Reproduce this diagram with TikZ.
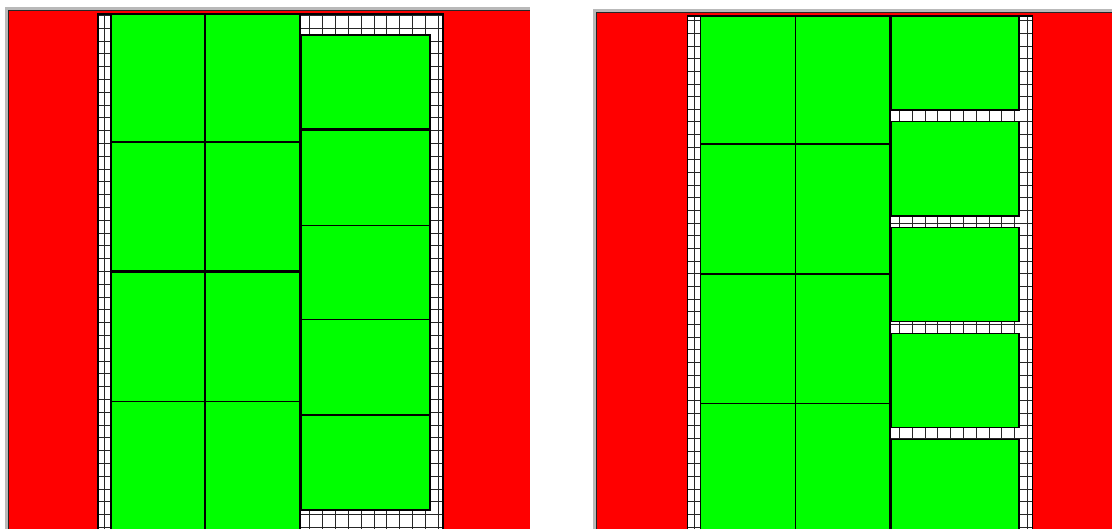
\documentclass[tikz,border=0pt]{standalone}
\usepackage{xcolor}
\usepackage{tikz}

\definecolor{boxgreen}{RGB}{0,255,0}
\definecolor{panelred}{RGB}{255,0,0}
\tikzset{
  greenbox/.style={fill=boxgreen, draw=black, line width=1.2pt},
  cellline/.style={draw=black!85, line width=1pt},
  shadowband/.style={fill=gray!55},
  darkedge/.style={fill=black!85}
}

\begin{document}
\begin{tikzpicture}[x=1pt,y=-1pt]
\useasboundingbox (0,0) rectangle (1112,528);
\clip (0,0) rectangle (1112,528);
% left panel
\fill[shadowband] (5,7) rectangle (530,540);
\fill[darkedge] (7.8,9.8) rectangle (530,540);
\fill[panelred] (9.2,11.2) rectangle (530,540);
\fill[white] (98,14) rectangle (443,540);
\begin{scope}
\clip (98,14) rectangle (443,540);
\foreach \k in {0,...,26}
  \draw[cellline] ({104.7+12.83*\k},14) -- ({104.7+12.83*\k},540);
\foreach \k in {0,...,41}
  \draw[cellline] (98,{15.5+12.8*\k}) -- (443,{15.5+12.8*\k});
\end{scope}
\draw[line width=1.2pt] (98,540) -- (98,14) -- (443,14) -- (443,540);
\foreach \ya/\yb in {14/141.8, 142.8/271, 272/401.5, 401.5/540}{
  \filldraw[greenbox] (111,\ya) rectangle (205,\yb);
  \filldraw[greenbox] (205,\ya) rectangle (300,\yb);
}
\foreach \ya/\yb in {35/129, 130/225.3, 225.3/319.7, 319.7/414.5, 415.5/510}
  \filldraw[greenbox] (301,\ya) rectangle (430,\yb);
%
% right panel
\fill[shadowband] (593,9) rectangle (1112,540);
\fill[darkedge] (595.8,11.8) rectangle (1112,540);
\fill[panelred] (597.2,13.2) rectangle (1112,540);
\fill[white] (687.5,16) rectangle (1032.3,540);
\begin{scope}
\clip (687.5,16) rectangle (1032.3,540);
\foreach \k in {0,...,26}
  \draw[cellline] ({694.3+12.82*\k},16) -- ({694.3+12.82*\k},540);
\foreach \k in {0,...,41}
  \draw[cellline] (687.5,{20.7+12.66*\k}) -- (1032.3,{20.7+12.66*\k});
\end{scope}
\draw[line width=1.2pt] (687.5,540) -- (687.5,16) -- (1032.3,16) -- (1032.3,540);
\foreach \ya/\yb in {16/143.8, 144.8/273.8, 274.8/403.3, 403.3/540}{
  \filldraw[greenbox] (700.7,\ya) rectangle (795.3,\yb);
  \filldraw[greenbox] (795.3,\ya) rectangle (890,\yb);
}
\foreach \ya/\yb in {16/110, 121.5/216, 227.3/321.7, 333.3/427.3, 439.3/540}
  \filldraw[greenbox] (891,\ya) rectangle (1019,\yb);
\end{tikzpicture}
\end{document}
